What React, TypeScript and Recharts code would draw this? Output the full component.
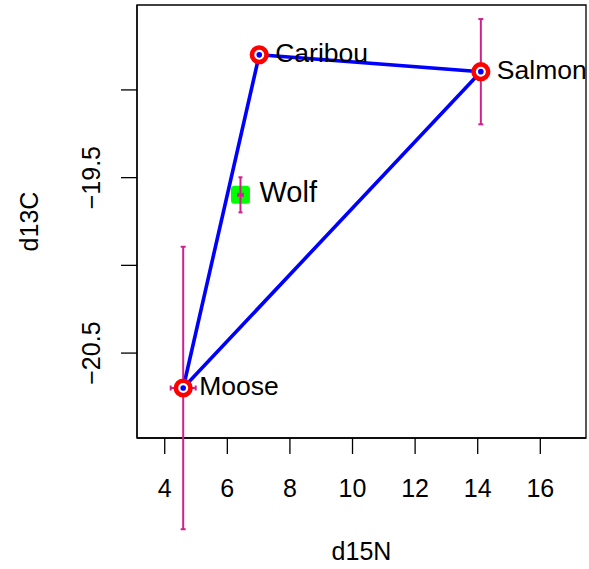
import React from 'react';
import { ScatterChart, Scatter, XAxis, YAxis, ReferenceArea, ReferenceLine } from 'recharts';

// ---- data ----
const preyNames = ['Caribou', 'Salmon', 'Moose'];
const preyN = [7.02, 14.1, 4.59];
const preyC = [-18.8, -18.896, -20.699];
const preyNsd = [0, 0, 0.4];
const preyCsd = [0, 0.3, 0.805];

const wolfNames = ['Wolf'];
const wolfN = [6.42];
const wolfC = [-19.598];
const wolfNsd = [0.075];
const wolfCsd = [0.1];

const hullOrder = ['Caribou', 'Salmon', 'Moose', 'Caribou'];

const xDomain = [3.114, 17.46];
const yDomain = [-20.984, -18.516];
const xTicks = [4, 6, 8, 10, 12, 14, 16];
const yTicks = [-20.5, -20, -19.5, -19];
const yTickLabels = ['\u221220.5', '', '\u221219.5', ''];

// ---- styles ----
const FONT = '"Liberation Sans", Arial, Helvetica, sans-serif';
const BLUE = '#0000FF';
const RED = '#FF0000';
const GREEN = '#00FF00';
const ERR = '#D02090';

const prey = preyNames.map((name, i) => ({
  name,
  n: preyN[i],
  c: preyC[i],
  nsd: preyNsd[i],
  csd: preyCsd[i],
}));
const wolf = wolfNames.map((name, i) => ({
  name,
  n: wolfN[i],
  c: wolfC[i],
  nsd: wolfNsd[i],
  csd: wolfCsd[i],
}));
const hull = hullOrder.map((nm) => prey.find((p) => p.name === nm)!);

type Seg = { key: string; seg: { x: number; y: number }[] };
const errorSegs = (rows: typeof prey): Seg[] => {
  const out: Seg[] = [];
  rows.forEach((r) => {
    if (r.csd > 0)
      out.push({
        key: r.name + '-c',
        seg: [
          { x: r.n, y: r.c - r.csd },
          { x: r.n, y: r.c + r.csd },
        ],
      });
    if (r.nsd > 0)
      out.push({
        key: r.name + '-n',
        seg: [
          { x: r.n - r.nsd, y: r.c },
          { x: r.n + r.nsd, y: r.c },
        ],
      });
  });
  return out;
};

const capShape = (cap: number) => (props: any) => {
  const { x1, y1, x2, y2 } = props;
  const vertical = Math.abs(x1 - x2) < 0.5;
  return (
    <g>
      <line x1={x1} y1={y1} x2={x2} y2={y2} stroke={ERR} strokeWidth={2} />
      {vertical ? (
        <>
          <line x1={x1 - cap} y1={y1} x2={x1 + cap} y2={y1} stroke={ERR} strokeWidth={2} />
          <line x1={x2 - cap} y1={y2} x2={x2 + cap} y2={y2} stroke={ERR} strokeWidth={2} />
        </>
      ) : (
        <>
          <line x1={x1} y1={y1 - cap} x2={x1} y2={y1 + cap} stroke={ERR} strokeWidth={2} />
          <line x1={x2} y1={y2 - cap} x2={x2} y2={y2 + cap} stroke={ERR} strokeWidth={2} />
        </>
      )}
    </g>
  );
};

const YTick = (props: any) => {
  const { x, y, payload } = props;
  const idx = yTicks.indexOf(payload.value);
  const label = idx >= 0 ? yTickLabels[idx] : '';
  if (!label) return <g />;
  return (
    <text
      x={x}
      y={y}
      transform={`rotate(-90 ${x} ${y})`}
      textAnchor="middle"
      fontSize={25}
      fontFamily={FONT}
      fill="#000"
    >
      {label}
    </text>
  );
};

export default function App() {
  return (
    <div style={{ position: 'absolute', left: 0, top: 0, background: '#fff' }}>
      <ScatterChart
        width={589}
        height={569}
        margin={{ top: 5, right: 3, left: 0, bottom: 0 }}
      >
        <XAxis
          type="number"
          dataKey="n"
          domain={xDomain}
          ticks={xTicks}
          allowDataOverflow
          height={131}
          tickSize={16}
          tickMargin={25}
          axisLine={{ stroke: '#000', strokeWidth: 1.3 }}
          tickLine={{ stroke: '#000', strokeWidth: 1.3 }}
          tick={{ fill: '#000', fontSize: 25, fontFamily: FONT }}
          label={{
            content: (p: any) => {
              const vb = p.viewBox;
              return (
                <text
                  x={vb.x + vb.width / 2}
                  y={vb.y + vb.height - 9}
                  textAnchor="middle"
                  fontSize={25}
                  fontFamily={FONT}
                  fill="#000"
                >
                  d15N
                </text>
              );
            },
          }}
        />
        <YAxis
          type="number"
          dataKey="c"
          domain={yDomain}
          ticks={yTicks}
          allowDataOverflow
          width={137}
          tickSize={16}
          tickMargin={21}
          axisLine={{ stroke: '#000', strokeWidth: 1.3 }}
          tickLine={{ stroke: '#000', strokeWidth: 1.3 }}
          tick={<YTick />}
          label={{
            content: (p: any) => {
              const vb = p.viewBox;
              const x = vb.x + 38;
              const y = vb.y + vb.height / 2;
              return (
                <text
                  x={x}
                  y={y}
                  transform={`rotate(-90 ${x} ${y})`}
                  textAnchor="middle"
                  fontSize={25}
                  fontFamily={FONT}
                  fill="#000"
                >
                  d13C
                </text>
              );
            },
          }}
        />
        <ReferenceArea
          x1={xDomain[0]}
          x2={xDomain[1]}
          y1={yDomain[0]}
          y2={yDomain[1]}
          fill="none"
          fillOpacity={0}
          stroke="#000"
          strokeWidth={1.3}
          ifOverflow="visible"
        />
        <Scatter
          data={hull}
          isAnimationActive={false}
          line={{ stroke: BLUE, strokeWidth: 3.6 }}
          lineType="joint"
          shape={() => <g />}
          zIndex={560}
        />
        {errorSegs(prey).map((s) => (
          <ReferenceLine
            key={s.key}
            segment={s.seg}
            ifOverflow="visible"
            shape={capShape(2.5)}
            zIndex={580}
          />
        ))}
        <Scatter
          data={prey}
          isAnimationActive={false}
          zIndex={600}
          shape={(p: any) => (
            <circle cx={p.cx} cy={p.cy} r={7.3} fill="#fff" stroke={RED} strokeWidth={4.6} />
          )}
        />
        <Scatter
          data={prey}
          isAnimationActive={false}
          zIndex={610}
          shape={(p: any) => <circle cx={p.cx} cy={p.cy} r={2.8} fill={BLUE} />}
        />
        <Scatter
          data={wolf}
          isAnimationActive={false}
          zIndex={620}
          shape={(p: any) => (
            <rect x={p.cx - 9.5} y={p.cy - 9} width={19} height={18} rx={3.5} fill={GREEN} />
          )}
        />
        {errorSegs(wolf).map((s) => (
          <ReferenceLine
            key={s.key}
            segment={s.seg}
            ifOverflow="visible"
            shape={capShape(2)}
            zIndex={700}
          />
        ))}
        <Scatter
          data={prey}
          isAnimationActive={false}
          zIndex={650}
          shape={(p: any) => (
            <text
              x={p.cx + 16}
              y={p.cy + 7}
              fontSize={26.5}
              fontFamily={FONT}
              fill="#000"
            >
              {p.payload.name}
            </text>
          )}
        />
        <Scatter
          data={wolf}
          isAnimationActive={false}
          zIndex={650}
          shape={(p: any) => (
            <text
              x={p.cx + 19}
              y={p.cy + 7}
              fontSize={29}
              fontFamily={FONT}
              fill="#000"
            >
              {p.payload.name}
            </text>
          )}
        />
      </ScatterChart>
    </div>
  );
}
